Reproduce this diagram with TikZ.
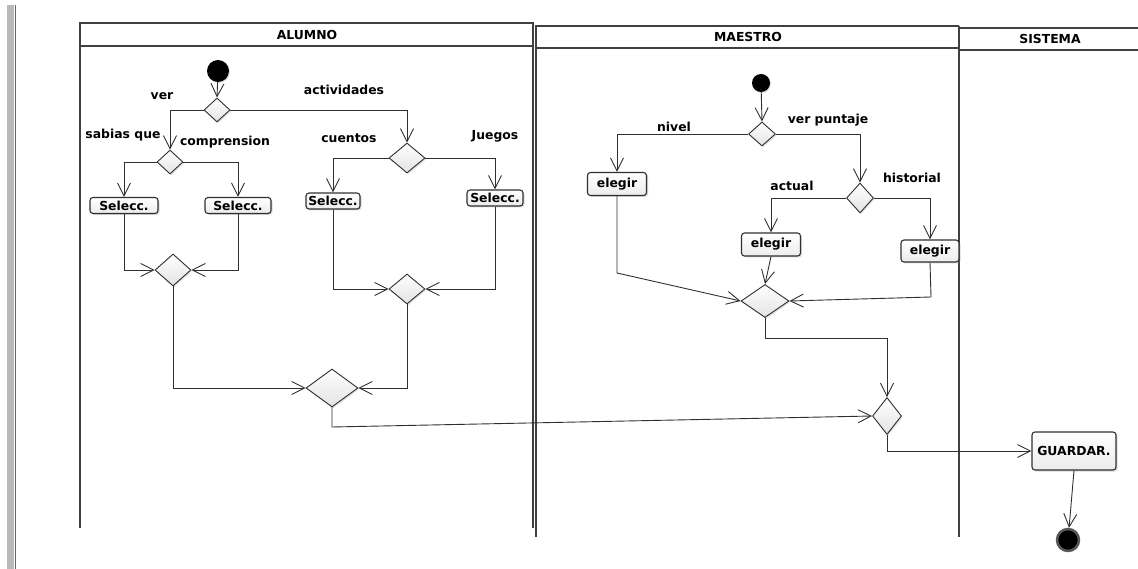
\documentclass[tikz,border=0pt]{standalone}
\usepackage{fontspec}
\setmainfont{DejaVu Sans}
\usetikzlibrary{arrows.meta,shapes.geometric,shadows}
\definecolor{ln}{HTML}{303030}
\definecolor{lane}{HTML}{404040}
\begin{document}
\begin{tikzpicture}[x=1pt,y=-1pt,
  every node/.style={font=\fontsize{12.4}{14}\selectfont\bfseries},
  lbl/.style={inner sep=0pt,text=black},
  arr/.style={draw=ln,line width=0.9pt,-{Straight Barb[length=13pt,width=13pt,line width=0.9pt]}},
  dia/.style={diamond,draw=ln,line width=0.9pt,inner sep=0pt,top color=white,bottom color=gray!22,
     drop shadow={opacity=0.25,shadow xshift=1pt,shadow yshift=-1.5pt}},
  act/.style={rectangle,rounded corners=3pt,draw=ln,line width=1.1pt,inner sep=1pt,top color=white,bottom color=gray!15,
     drop shadow={opacity=0.3,shadow xshift=1.5pt,shadow yshift=-1.5pt}},
  startst/.style={circle,fill=black,inner sep=0pt},
  lanel/.style={draw=lane,line width=1.1pt}
]
\useasboundingbox (0,0) rectangle (1138,569);
% left page bar
\fill[gray!55] (7,5) rectangle (14,569);
\draw[gray!80!black,line width=1pt] (15,5) -- (15,569);
% lanes
\draw[lanel] (80,528) -- (80,23) -- (533,23) -- (533,528);
\draw[lanel] (80,46) -- (533,46);
\draw[lanel] (536,537) -- (536,26) -- (959,26);
\draw[lanel] (536,48) -- (959,48);
\draw[draw=lane,line width=1.8pt] (959,26) -- (959,537);
\draw[lanel] (959,28) -- (1138,28);
\draw[lanel] (959,50) -- (1138,50);
\node[lbl] (hA) at (307,35) {ALUMNO};
\node[lbl] (hM) at (748,37) {MAESTRO};
\node[lbl] (hS) at (1050,39) {SISTEMA};

% ALUMNO nodes
\node[startst,minimum size=22pt,drop shadow={opacity=0.25,shadow xshift=1pt,shadow yshift=-1pt}] (s1) at (218,71) {};
\node[dia,minimum width=26pt,minimum height=24pt] (d1) at (217,110) {};
\node[dia,minimum width=26pt,minimum height=24pt] (d2) at (170,162) {};
\node[dia,minimum width=36pt,minimum height=30pt] (d3) at (407,158) {};
\node[act,minimum width=68pt,minimum height=16pt] (b1) at (124,205.5) {Selecc.};
\node[act,minimum width=66pt,minimum height=16pt] (b2) at (238,205.5) {Selecc.};
\node[act,minimum width=54pt,minimum height=16pt] (b3) at (333,201) {Selecc.};
\node[act,minimum width=56pt,minimum height=16pt] (b4) at (495,198) {Selecc.};
\node[dia,minimum width=36pt,minimum height=32pt] (m1) at (173,270) {};
\node[dia,minimum width=36pt,minimum height=30pt] (m2) at (407,289) {};
\node[dia,minimum width=52pt,minimum height=38pt] (m3) at (332,388) {};
\node[lbl] (lver) at (162,96) {ver};
\node[lbl] (lact) at (344,90) {actividades};
\node[lbl] (lsab) at (123,135) {sabias que};
\node[lbl] (lcomp) at (225,142) {comprension};
\node[lbl] (lcue) at (349,138) {cuentos};
\node[lbl] (ljue) at (495,136) {Juegos};

% MAESTRO nodes
\node[startst,minimum size=18pt,drop shadow={opacity=0.25,shadow xshift=1pt,shadow yshift=-1pt}] (s2) at (761,83) {};
\node[dia,minimum width=27pt,minimum height=24pt] (d4) at (762,134) {};
\node[dia,minimum width=27pt,minimum height=30pt] (d5) at (860,198) {};
\node[act,minimum width=59pt,minimum height=23pt] (e1) at (617,184) {elegir};
\node[act,minimum width=59pt,minimum height=23pt] (e2) at (771,244.5) {elegir};
\node[act,minimum width=58pt,minimum height=22pt] (e3) at (930,251) {elegir};
\node[dia,minimum width=48pt,minimum height=33pt] (m4) at (765,301) {};
\node[dia,minimum width=29pt,minimum height=37pt] (m5) at (887,416) {};
\node[lbl] (lniv) at (674,127) {nivel};
\node[lbl] (lvp) at (828,120) {ver puntaje};
\node[lbl] (lactu) at (792,186) {actual};
\node[lbl] (lhis) at (912,178) {historial};

% SISTEMA nodes
\node[act,minimum width=84pt,minimum height=38pt] (g) at (1074,451) {GUARDAR.};
\node[circle,draw=gray!70!black,line width=2.5pt,fill=black,minimum size=22pt,inner sep=0pt,
      drop shadow={opacity=0.25,shadow xshift=1pt,shadow yshift=-1pt}] (fin) at (1068,540) {};

\coordinate (c1) at (332,427);
\coordinate (c2) at (617,273);
\coordinate (c3) at (931,297);
\coordinate (c4) at (765,338);

% ALUMNO connectors
\draw[arr] (s1) -- (d1.north);
\draw[arr] (d1.west) -| (d2.north);
\draw[arr] (d1.east) -| (d3.north);
\draw[arr] (d2.west) -| (b1.north);
\draw[arr] (d2.east) -| (b2.north);
\draw[arr] (d3.west) -| (b3.north);
\draw[arr] (d3.east) -| (b4.north);
\draw[arr] (b1.south) |- (m1.west);
\draw[arr] (b2.south) |- (m1.east);
\draw[arr] (b3.south) |- (m2.west);
\draw[arr] (b4.south) |- (m2.east);
\draw[arr] (m1.south) |- (m3.west);
\draw[arr] (m2.south) |- (m3.east);
\draw[arr] (m3.south) -- (c1) -- (m5.west);

% MAESTRO connectors
\draw[arr] (s2) -- (d4.north);
\draw[arr] (d4.west) -| (e1.north);
\draw[arr] (d4.east) -| (d5.north);
\draw[arr] (d5.west) -| (e2.north);
\draw[arr] (d5.east) -| (e3.north);
\draw[arr] (e1.south) -- (c2) -- (m4.west);
\draw[arr] (e2.south) -- (m4.north);
\draw[arr] (e3.south) -- (c3) -- (m4.east);
\draw[arr] (m4.south) -- (c4) -| (m5.north);
\draw[arr] (m5.south) |- (g.west);
\draw[arr] (g.south) -- (fin);
\end{tikzpicture}
\end{document}
